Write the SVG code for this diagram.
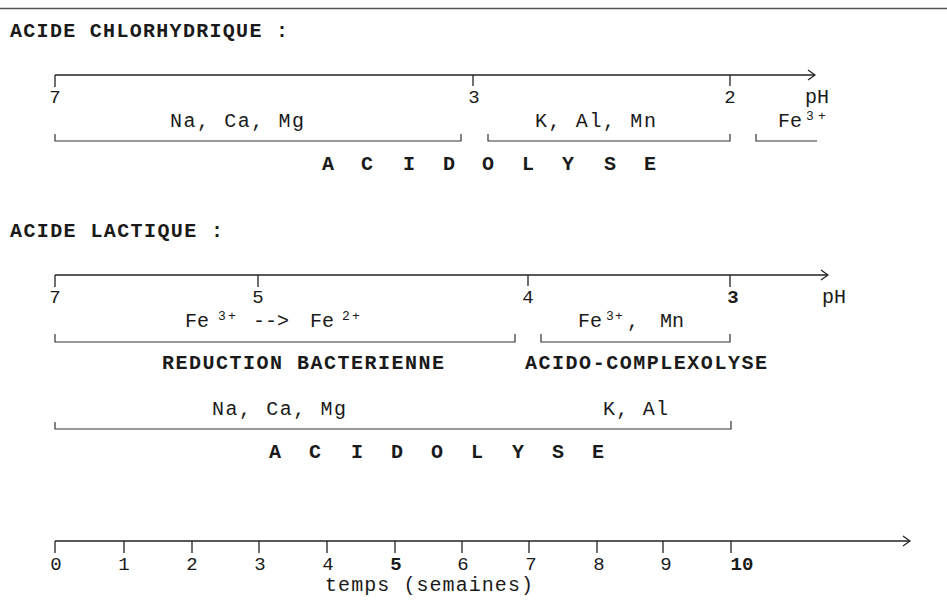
<svg xmlns="http://www.w3.org/2000/svg" width="947" height="602" viewBox="0 0 947 602">
<style>
  .ax{stroke:#222;stroke-width:1.3;fill:none}
  .br{stroke:#333;stroke-width:1.2;fill:none}
  .tk{stroke:#222;stroke-width:1.3}
  .ar{stroke:#222;stroke-width:1.2;fill:none}
  text{font-family:"Liberation Mono","DejaVu Sans Mono",monospace;fill:#1a1a1a}
  .r{font-size:20px}
  .n{font-size:19px;text-anchor:middle}
  .b{font-size:20px;font-weight:bold}
  .s{font-size:13px}
</style>
<rect width="947" height="602" fill="#fff"/>
<line x1="0" y1="8.5" x2="947" y2="8.5" stroke="#555" stroke-width="1.3"/>

<g id="titre-hcl"><text class="b" x="10" y="37" textLength="278">ACIDE CHLORHYDRIQUE :</text></g>

<g id="axe-ph-hcl">
  <line class="ax" x1="55" y1="75" x2="815" y2="75"/>
  <polyline class="ar" points="808,70 815,75 808,80"/>
  <line class="tk" x1="55" y1="75" x2="55" y2="87"/>
  <line class="tk" x1="473" y1="75" x2="473" y2="86"/>
  <line class="tk" x1="730" y1="75" x2="730" y2="86"/>
  <text class="n" x="55" y="103">7</text>
  <text class="n" x="474" y="103">3</text>
  <text class="n" x="730" y="103">2</text>
  <text class="r" x="805" y="103">pH</text>
</g>

<g id="hcl-namg">
  <text class="r" x="170" y="127" textLength="134">Na, Ca, Mg</text>
  <polyline class="br" points="55,134 55,141 461,141 461,134"/>
</g>
<g id="hcl-kalmn">
  <text class="r" x="535" y="127" textLength="121">K, Al, Mn</text>
  <polyline class="br" points="488,134 488,141 730,141 730,134"/>
</g>
<g id="hcl-fe">
  <text class="r" x="778" y="127">Fe</text>
  <text class="s" x="806" y="120">3</text>
  <text class="s" x="818" y="120">+</text>
  <polyline class="br" points="756,134 756,141 817,141"/>
</g>
<g id="hcl-acidolyse">
  <text class="b" x="322 361 403 443 482 522 562 604 644" y="170">ACIDOLYSE</text>
</g>

<g id="titre-lactique"><text class="b" x="10" y="237" textLength="213">ACIDE LACTIQUE :</text></g>

<g id="axe-ph-lactique">
  <line class="ax" x1="55" y1="275" x2="828" y2="275"/>
  <polyline class="ar" points="821,270 828,275 821,280"/>
  <line class="tk" x1="55" y1="275" x2="55" y2="287"/>
  <line class="tk" x1="258" y1="275" x2="258" y2="287"/>
  <line class="tk" x1="528" y1="275" x2="528" y2="286"/>
  <line class="tk" x1="730" y1="275" x2="730" y2="287"/>
  <text class="n" x="55" y="303">7</text>
  <text class="n" x="258" y="303">5</text>
  <text class="n" x="528" y="303">4</text>
  <text class="n" x="733" y="303" font-weight="bold">3</text>
  <text class="r" x="822" y="303">pH</text>
</g>

<g id="lac-reduction">
  <text class="r" x="185" y="327">Fe</text>
  <text class="s" x="218" y="320">3</text>
  <text class="s" x="228" y="320">+</text>
  <text class="r" x="253" y="327">--&gt;</text>
  <text class="r" x="310" y="327">Fe</text>
  <text class="s" x="342" y="320">2</text>
  <text class="s" x="352" y="320">+</text>
  <polyline class="br" points="55,334 55,342 515,342 515,334"/>
  <text class="b" x="162" y="369" textLength="282">REDUCTION BACTERIENNE</text>
</g>

<g id="lac-complexolyse">
  <text class="r" x="578" y="327">Fe</text>
  <text class="s" x="606" y="320">3</text>
  <text class="s" x="615" y="320">+</text>
  <text class="r" x="627" y="327">,</text>
  <text class="r" x="660" y="327">Mn</text>
  <polyline class="br" points="541,334 541,342 730,342 730,334"/>
  <text class="b" x="525" y="369" textLength="242">ACIDO-COMPLEXOLYSE</text>
</g>

<g id="lac-acidolyse">
  <text class="r" x="212" y="415" textLength="134">Na, Ca, Mg</text>
  <text class="r" x="603" y="415" textLength="65">K, Al</text>
  <polyline class="br" points="55,422 55,429 731,429 731,421"/>
  <text class="b" x="269 309 351 391 431 471 512 552 592" y="458">ACIDOLYSE</text>
</g>

<g id="axe-temps">
  <line class="ax" x1="55" y1="541" x2="910" y2="541"/>
  <polyline class="ar" points="903,536 910,541 903,546"/>
  <line class="tk" x1="55" y1="541" x2="55" y2="553"/>
  <line class="tk" x1="124" y1="541" x2="124" y2="553"/>
  <line class="tk" x1="192" y1="541" x2="192" y2="553"/>
  <line class="tk" x1="259" y1="541" x2="259" y2="553"/>
  <line class="tk" x1="327" y1="541" x2="327" y2="553"/>
  <line class="tk" x1="395" y1="541" x2="395" y2="553"/>
  <line class="tk" x1="462" y1="541" x2="462" y2="553"/>
  <line class="tk" x1="529" y1="541" x2="529" y2="553"/>
  <line class="tk" x1="597" y1="541" x2="597" y2="553"/>
  <line class="tk" x1="663" y1="541" x2="663" y2="553"/>
  <line class="tk" x1="731" y1="541" x2="731" y2="553"/>
  <text class="n" x="56" y="570">0</text>
  <text class="n" x="124" y="570">1</text>
  <text class="n" x="192" y="570">2</text>
  <text class="n" x="260" y="570">3</text>
  <text class="n" x="328" y="570">4</text>
  <text class="n" x="396" y="570" font-weight="bold">5</text>
  <text class="n" x="463" y="570">6</text>
  <text class="n" x="531" y="570">7</text>
  <text class="n" x="599" y="570">8</text>
  <text class="n" x="666" y="570">9</text>
  <text class="n" x="742" y="570" font-weight="bold">10</text>
  <text class="r" x="325" y="591" textLength="208">temps (semaines)</text>
</g>
</svg>
